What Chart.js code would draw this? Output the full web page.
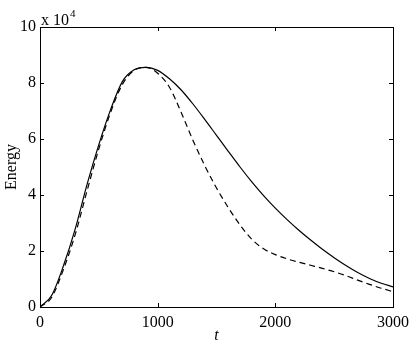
<!DOCTYPE html>
<html>
<head>
<meta charset="utf-8">
<script src="https://cdn.jsdelivr.net/npm/chart.js@4.4.1/dist/chart.umd.min.js"></script>
<style>
  html, body { margin: 0; padding: 0; background: #fff; }
  canvas { display: block; }
</style>
</head>
<body>
<canvas id="c" width="415" height="345"></canvas>
<script>
// time axis (t)
const tValues = [0,100,200,300,400,500,600,700,800,900,1000,1100,1200,1300,1400,1500,
                 1600,1700,1800,1900,2000,2100,2200,2300,2400,2500,2600,2700,2800,2900,3000];
// Energy in units of 10^4 — solid curve
const energySolid = [0,0.42,1.48,2.8,4.38,5.8,7.05,8.05,8.47,8.56,8.45,8.15,7.75,7.25,6.70,6.13,
                     5.56,5.0,4.47,3.98,3.53,3.12,2.74,2.39,2.06,1.76,1.48,1.23,1.02,0.85,0.72];
// Energy in units of 10^4 — dashed curve
const energyDashed = [0,0.35,1.35,2.6,4.15,5.65,6.95,7.95,8.45,8.56,8.35,7.85,6.95,5.95,5.05,4.25,
                      3.55,2.93,2.42,2.08,1.87,1.72,1.60,1.49,1.38,1.26,1.12,0.96,0.81,0.67,0.55];
const xTicks = [0,1000,2000,3000];
const yTicks = [0,2,4,6,8,10];
const yExponentLabel = 'x 10';
const yExponent = '4';

const FONT = '"Liberation Serif", "Times New Roman", serif';
Chart.defaults.color = '#000';
Chart.defaults.font.family = FONT;
Chart.defaults.font.size = 16;

const toPts = arr => arr.map((v, i) => ({x: tValues[i], y: v}));

const boxPlugin = {
  id: 'box',
  afterDraw(chart) {
    const {ctx, chartArea: a, scales} = chart;
    ctx.save();
    ctx.strokeStyle = '#000';
    ctx.lineWidth = 1;
    ctx.strokeRect(Math.round(a.left) + 0.5, Math.round(a.top) + 0.5,
                   Math.round(a.right - a.left), Math.round(a.bottom - a.top));
    const tl = 4;
    ctx.beginPath();
    xTicks.forEach(v => {
      const x = Math.round(scales.x.getPixelForValue(v)) + 0.5;
      ctx.moveTo(x, a.bottom); ctx.lineTo(x, a.bottom - tl);
      ctx.moveTo(x, a.top); ctx.lineTo(x, a.top + tl);
    });
    yTicks.forEach(v => {
      const y = Math.round(scales.y.getPixelForValue(v)) + 0.5;
      ctx.moveTo(a.left, y); ctx.lineTo(a.left + tl, y);
      ctx.moveTo(a.right, y); ctx.lineTo(a.right - tl, y);
    });
    ctx.stroke();
    ctx.fillStyle = '#000';
    ctx.textBaseline = 'alphabetic';
    ctx.textAlign = 'left';
    ctx.font = '16px ' + FONT;
    ctx.fillText(yExponentLabel, a.left + 1, a.top - 2);
    const w = ctx.measureText(yExponentLabel).width;
    ctx.font = '11px ' + FONT;
    ctx.fillText(yExponent, a.left + 1 + w + 1, a.top - 10);
    ctx.restore();
  }
};

const tickFont = { family: FONT, size: 16 };

new Chart(document.getElementById('c'), {
  type: 'line',
  data: {
    datasets: [
      {
        data: toPts(energySolid),
        borderColor: '#000',
        borderWidth: 1.2,
        pointRadius: 0,
        cubicInterpolationMode: 'monotone',
        fill: false
      },
      {
        data: toPts(energyDashed),
        borderColor: '#000',
        borderWidth: 1.2,
        borderDash: [6, 4],
        pointRadius: 0,
        cubicInterpolationMode: 'monotone',
        fill: false
      }
    ]
  },
  options: {
    responsive: false,
    animation: false,
    devicePixelRatio: 1,
    layout: { padding: { top: 27, right: 21, left: 0, bottom: 0 } },
    plugins: { legend: { display: false }, tooltip: { enabled: false } },
    scales: {
      x: {
        type: 'linear',
        min: 0, max: 3000,
        afterBuildTicks: s => { s.ticks = xTicks.map(v => ({value: v})); },
        afterFit: s => { s.height = 38; },
        grid: { display: false, drawTicks: false },
        border: { display: false },
        ticks: { padding: 6, maxRotation: 0, font: tickFont, callback: v => String(v) },
        title: { display: true, text: 't', font: { family: FONT, size: 16, style: 'italic' }, padding: { top: 0, bottom: 0 } }
      },
      y: {
        type: 'linear',
        min: 0, max: 10,
        afterBuildTicks: s => { s.ticks = yTicks.map(v => ({value: v})); },
        afterFit: s => { s.width = 40; },
        grid: { display: false, drawTicks: false },
        border: { display: false },
        ticks: { padding: 4, font: tickFont, callback: v => String(v) },
        title: { display: true, text: 'Energy', font: { family: FONT, size: 16 }, padding: { top: 2, bottom: 0 } }
      }
    }
  },
  plugins: [boxPlugin]
});
</script>
</body>
</html>
